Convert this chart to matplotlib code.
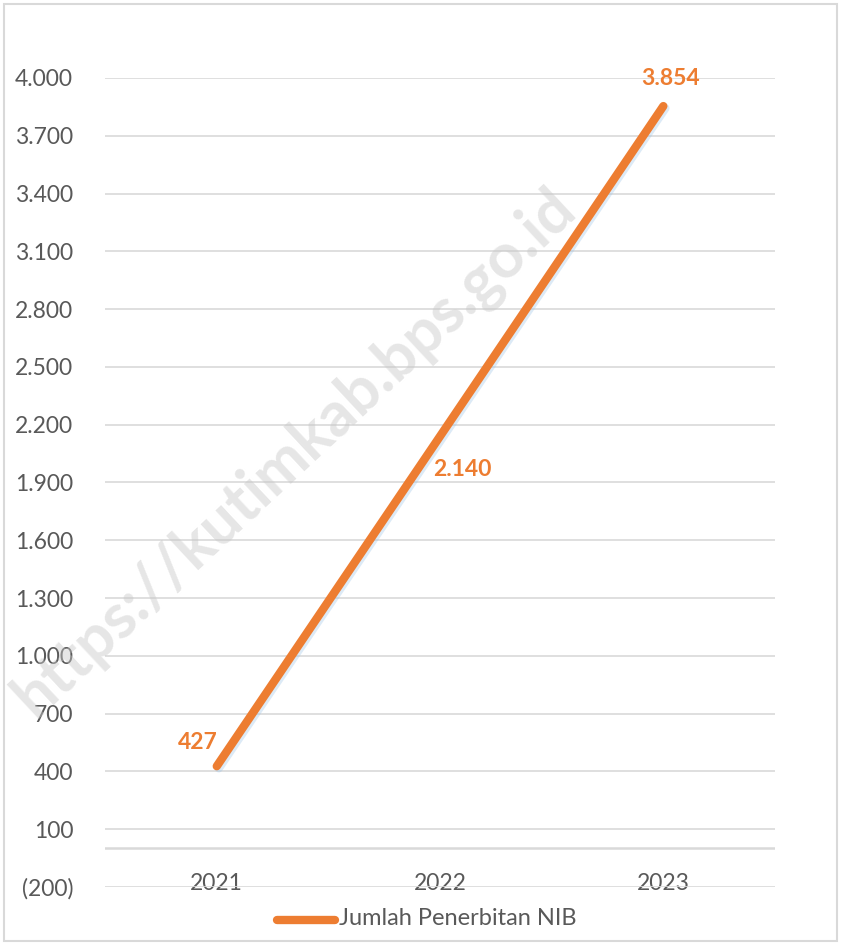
import matplotlib.pyplot as plt
import matplotlib.patheffects as pe
from matplotlib.ticker import FuncFormatter
from matplotlib.patches import Rectangle

plt.rcParams['font.family'] = ['Lato', 'DejaVu Sans']

# data
years = ['2021', '2022', '2023']
nib_counts = [427, 2140, 3854]
series_name = 'Jumlah Penerbitan NIB'
value_labels = ['427', '2.140', '3.854']
y_ticks = list(range(-200, 4001, 300))

orange = '#ED7D31'
grey_text = '#595959'
grid_col = '#D9D9D9'

fig = plt.figure(figsize=(8.41, 9.44), dpi=100)
ax = fig.add_axes([0.125, 0.0604, 0.7965, 0.857])

x = list(range(len(years)))
ax.plot(x, nib_counts, color=orange, lw=6, solid_capstyle='round', zorder=3,
        path_effects=[pe.SimpleLineShadow(offset=(1.5, -1.5), shadow_color='#9dc3e6', alpha=0.35),
                      pe.Normal()])

ax.set_xlim(-0.5, 2.5)
ax.set_ylim(-200, 4000)
ax.set_yticks(y_ticks)

def fmt(v, pos):
    s = f'{abs(v):,.0f}'.replace(',', '.')
    return f'({s})' if v < 0 else s

ax.yaxis.set_major_formatter(FuncFormatter(fmt))
ax.grid(axis='y', color=grid_col, lw=1.2)
ax.axhline(0, color=grid_col, lw=1.8, zorder=1)
ax.set_axisbelow(True)
for s in ax.spines.values():
    s.set_visible(False)
ax.tick_params(axis='both', length=0, labelsize=16.5, colors=grey_text)
ax.tick_params(axis='y', pad=23)
ax.set_xticks(x)
ax.set_xticklabels(years)
ax.tick_params(axis='x', pad=-10)

# value labels
offsets = [(-14, 17), (16, -24), (5, 20)]
for xi, v, lab, off in zip(x, nib_counts, value_labels, offsets):
    ax.annotate(lab, (xi, v), xytext=off, textcoords='offset points',
                ha='center', va='center', color=orange, fontsize=16.5, fontweight='bold')

# legend
fig.lines.append(plt.Line2D([0.329, 0.398], [0.0256, 0.0256], transform=fig.transFigure,
                            color=orange, lw=6, solid_capstyle='round'))
fig.text(0.403, 0.0265, series_name, color=grey_text, fontsize=17, va='center', ha='left')

# watermark
fig.text(0.35, 0.52, 'https://kutimkab.bps.go.id', rotation=43, fontsize=45,
         color='#c8c8c8', alpha=0.45, ha='center', va='center', fontweight='bold')

# frame
fig.patches.append(Rectangle((0.005, 0.003), 0.99, 0.993, transform=fig.transFigure,
                             fill=False, edgecolor=grid_col, lw=1.5))

fig.savefig('out.png', dpi=100)
